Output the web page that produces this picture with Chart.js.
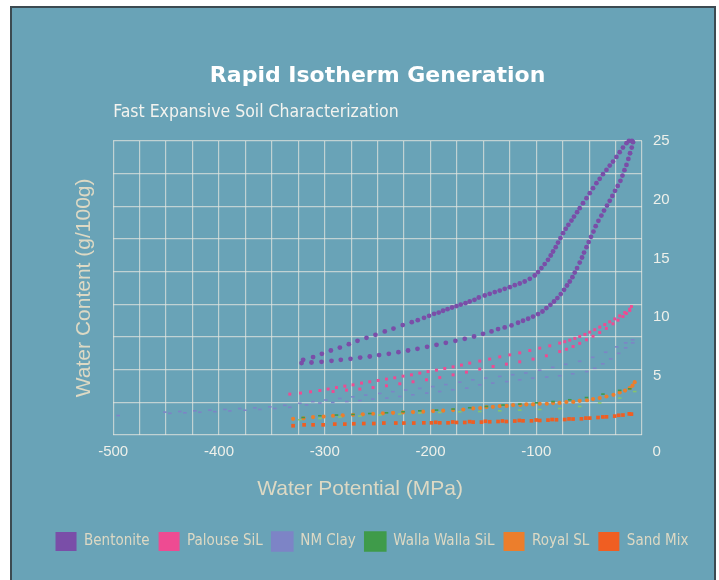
<!DOCTYPE html>
<html lang="en">

<head>
  <meta charset="utf-8">
  <title>Rapid Isotherm Generation</title>
  <script src="https://cdn.jsdelivr.net/npm/chart.js"></script>
  <style>
    html,
    body {
      margin: 0;
      padding: 0;
      background: #ffffff;
    }

    .painel {
      position: absolute;
      left: 10px;
      top: 6px;
      width: 706px;
      height: 580px;
      box-sizing: border-box;
      background: #69a3b7;
      border: 2px solid #3c4a51;
      border-bottom: none;
    }

    #grafico {
      position: absolute;
      left: 0;
      top: 0;
    }
  </style>
</head>

<body>
  <div class="painel"></div>
  <canvas id="grafico" width="719" height="580"></canvas>

  <script>
    // categorias e eixos
    const soils = ['Bentonite', 'Palouse SiL', 'NM Clay', 'Walla Walla SiL', 'Royal SL', 'Sand Mix'];
    const xTicks = [-500, -400, -300, -200, -100, 0];
    const yTicks = [5, 10, 15, 20, 25];

    // pontos [potencial (MPa), conteudo de agua (g/100g)]
    const bentoniteDrying = [[-320.4, 6.38], [-311.0, 6.61], [-302.7, 6.89], [-294.2, 7.17], [-285.7, 7.42], [-277.2, 7.71], [-269.0, 7.99], [-260.5, 8.25], [-252.0, 8.50], [-243.2, 8.79], [-235.0, 9.04], [-226.2, 9.33], [-217.7, 9.58], [-212.0, 9.75], [-206.1, 9.95], [-201.3, 10.12], [-196.6, 10.29], [-192.2, 10.40], [-188.1, 10.55], [-183.9, 10.69], [-179.6, 10.83], [-175.4, 10.95], [-171.4, 11.08], [-166.9, 11.20], [-162.9, 11.34], [-158.4, 11.48], [-154.3, 11.68], [-148.7, 11.85], [-144.0, 11.99], [-139.2, 12.14], [-134.5, 12.27], [-129.8, 12.42], [-125.0, 12.56], [-120.3, 12.73], [-115.6, 12.87], [-110.9, 13.04], [-106.1, 13.27], [-101.4, 13.55], [-98.3, 13.84], [-95.1, 14.18], [-92.0, 14.52], [-88.9, 14.88], [-86.3, 15.25], [-84.1, 15.59], [-81.6, 15.96], [-79.4, 16.35], [-77.1, 16.73], [-74.7, 17.15], [-72.1, 17.52], [-69.6, 17.86], [-66.7, 18.22], [-64.3, 18.56], [-61.4, 18.94], [-58.9, 19.28], [-55.8, 19.70], [-52.5, 20.13], [-49.4, 20.55], [-46.3, 20.98], [-43.1, 21.40], [-40.0, 21.77], [-36.9, 22.17], [-33.6, 22.53], [-30.5, 22.90], [-27.4, 23.24], [-24.2, 23.64], [-21.1, 24.04], [-18.0, 24.43], [-14.7, 24.81], [-12.3, 25.00], [-9.5, 25.00]];
    const bentoniteWetting = [[-321.9, 6.10], [-312.5, 6.15], [-303.0, 6.21], [-293.6, 6.29], [-284.8, 6.38], [-275.6, 6.46], [-266.5, 6.57], [-257.4, 6.66], [-248.6, 6.78], [-239.4, 6.89], [-230.3, 7.03], [-221.2, 7.17], [-212.3, 7.31], [-203.2, 7.48], [-194.3, 7.65], [-185.5, 7.82], [-176.4, 7.99], [-167.6, 8.16], [-158.8, 8.36], [-150.3, 8.59], [-142.3, 8.79], [-136.1, 8.99], [-129.8, 9.13], [-123.4, 9.30], [-117.2, 9.53], [-112.5, 9.70], [-107.7, 9.87], [-103.0, 10.06], [-98.3, 10.27], [-94.1, 10.49], [-90.4, 10.78], [-86.6, 11.06], [-83.2, 11.34], [-80.0, 11.63], [-76.8, 11.97], [-73.7, 12.33], [-70.9, 12.70], [-68.3, 13.04], [-65.8, 13.41], [-63.6, 13.80], [-61.4, 14.18], [-58.9, 14.65], [-56.7, 15.08], [-54.8, 15.50], [-52.5, 15.96], [-50.4, 16.39], [-48.2, 16.84], [-45.9, 17.29], [-43.8, 17.75], [-41.2, 18.20], [-38.4, 18.65], [-35.9, 19.07], [-33.1, 19.50], [-30.5, 19.90], [-28.0, 20.32], [-25.5, 20.75], [-23.0, 21.17], [-20.4, 21.60], [-18.5, 22.05], [-16.6, 22.51], [-14.7, 22.96], [-12.9, 23.47], [-11.3, 23.95], [-9.7, 24.43], [-8.5, 24.89]];

    const palouseDrying = [[-333.0, 3.46], [-322.9, 3.55], [-313.4, 3.66], [-304.6, 3.77], [-296.8, 3.89], [-288.9, 4.02], [-281.0, 4.14], [-273.2, 4.25], [-265.2, 4.40], [-257.4, 4.51], [-249.5, 4.62], [-241.6, 4.74], [-233.8, 4.85], [-225.9, 4.99], [-218.0, 5.10], [-210.1, 5.25], [-202.3, 5.38], [-194.3, 5.50], [-186.5, 5.64], [-178.6, 5.78], [-170.7, 5.93], [-162.9, 6.10], [-153.4, 6.27], [-144.0, 6.44], [-134.5, 6.63], [-125.0, 6.80], [-115.6, 6.97], [-106.1, 7.17], [-96.7, 7.37], [-87.2, 7.57], [-77.8, 7.80], [-73.0, 7.92], [-68.3, 8.05], [-63.5, 8.20], [-58.9, 8.36], [-54.0, 8.54], [-49.4, 8.73], [-44.7, 8.94], [-40.0, 9.16], [-35.2, 9.38], [-30.5, 9.61], [-25.8, 9.86], [-21.1, 10.12], [-16.3, 10.40], [-11.6, 10.69], [-10.0, 10.91]];
    const palouseWetting = [[-292.1, 3.68], [-279.4, 3.80], [-266.8, 3.89], [-254.3, 4.02], [-241.6, 4.17], [-229.0, 4.34], [-216.5, 4.51], [-203.8, 4.68], [-191.2, 4.87], [-178.6, 5.10], [-166.0, 5.33], [-153.4, 5.59], [-140.8, 5.81], [-128.2, 6.01], [-115.6, 6.21], [-103.0, 6.44], [-90.4, 6.72], [-77.8, 7.08], [-71.5, 7.28], [-65.2, 7.51], [-58.9, 7.78], [-52.5, 8.08], [-46.3, 8.38], [-40.0, 8.70], [-33.7, 9.05], [-27.4, 9.44], [-22.7, 9.75], [-18.0, 10.06], [-14.8, 10.32], [-11.6, 10.57]];

    const nmClayDrying = [[-495.3, 1.64], [-451.1, 1.93], [-437.0, 1.98], [-422.8, 2.04], [-408.6, 2.10], [-394.4, 2.16], [-380.3, 2.23], [-366.1, 2.30], [-351.9, 2.38], [-337.7, 2.51], [-323.5, 2.68], [-311.3, 2.82], [-299.0, 2.96], [-285.7, 3.09], [-273.4, 3.23], [-261.2, 3.38], [-247.9, 3.52], [-235.6, 3.67], [-223.4, 3.81], [-210.1, 3.95], [-197.8, 4.10], [-185.5, 4.27], [-172.3, 4.48], [-160.0, 4.68], [-147.7, 4.83], [-134.5, 4.97], [-122.2, 5.11], [-109.9, 5.26], [-96.7, 5.49], [-84.4, 5.74], [-72.1, 6.00], [-58.9, 6.25], [-46.6, 6.59], [-34.3, 7.02], [-23.9, 7.48], [-15.4, 7.82], [-8.8, 8.08]];
    const nmClayWetting = [[-446.4, 1.83], [-432.2, 1.87], [-418.1, 1.92], [-403.9, 1.97], [-389.7, 2.03], [-375.5, 2.09], [-361.4, 2.16], [-347.2, 2.24], [-333.0, 2.34], [-317.2, 2.55], [-304.6, 2.70], [-292.4, 2.75], [-279.1, 2.83], [-266.8, 2.92], [-254.5, 3.04], [-241.3, 3.12], [-229.0, 3.26], [-216.7, 3.40], [-203.5, 3.55], [-191.2, 3.68], [-178.9, 3.83], [-165.7, 3.97], [-153.4, 4.25], [-141.1, 4.40], [-127.9, 4.53], [-115.6, 4.68], [-103.3, 4.82], [-90.1, 4.91], [-77.8, 5.02], [-65.5, 5.19], [-52.3, 5.38], [-44.7, 5.66], [-37.1, 6.04], [-29.6, 6.46], [-22.0, 6.93], [-15.4, 7.40], [-8.8, 7.82]];

    const wallaDrying = [[-320.4, 1.47], [-304.6, 1.62], [-288.9, 1.68], [-273.2, 1.73], [-257.4, 1.81], [-241.6, 1.87], [-225.9, 1.96], [-210.1, 2.04], [-194.3, 2.10], [-178.6, 2.19], [-162.9, 2.30], [-147.1, 2.41], [-131.4, 2.53], [-115.6, 2.61], [-99.8, 2.72], [-84.1, 2.83], [-68.3, 2.98], [-52.5, 3.17], [-36.9, 3.46], [-21.1, 3.78], [-11.6, 3.91]];
    const wallaWetting = [[-323.5, 1.28], [-304.6, 1.39], [-285.7, 1.51], [-266.8, 1.59], [-247.9, 1.68], [-229.0, 1.76], [-210.1, 1.85], [-191.2, 1.90], [-172.3, 1.96], [-153.4, 1.98], [-134.5, 2.04], [-115.6, 2.10], [-96.7, 2.15], [-77.8, 2.24], [-58.9, 2.41], [-40.0, 2.70], [-21.1, 3.12], [-6.9, 3.68]];

    const royalDrying = [[-329.9, 1.36], [-311.0, 1.51], [-292.1, 1.62], [-273.2, 1.70], [-254.3, 1.79], [-235.4, 1.87], [-216.5, 1.93], [-197.5, 2.02], [-178.6, 2.10], [-159.7, 2.24], [-147.1, 2.36], [-134.5, 2.44], [-121.9, 2.53], [-109.3, 2.58], [-96.7, 2.64], [-84.1, 2.70], [-71.5, 2.78], [-58.9, 2.89], [-46.3, 3.04], [-33.6, 3.26], [-21.1, 3.60], [-11.6, 3.97], [-6.9, 4.48]];
    const royalWetting = [[-320.0, 1.40], [-301.0, 1.55], [-283.0, 1.65], [-264.0, 1.74], [-245.0, 1.83], [-226.0, 1.90], [-207.0, 1.97], [-188.0, 2.05], [-169.0, 2.15], [-153.0, 2.28], [-141.0, 2.38], [-128.0, 2.46], [-115.0, 2.53], [-103.0, 2.58], [-90.0, 2.64], [-78.0, 2.71], [-65.0, 2.80], [-52.0, 2.94], [-40.0, 3.12], [-27.0, 3.40], [-16.0, 3.76], [-9.0, 4.18]];

    const sandDrying = [[-329.9, 0.77], [-319.5, 0.85], [-311.0, 0.85], [-301.5, 0.85], [-290.5, 0.91], [-281.0, 0.91], [-272.5, 0.94], [-263.1, 0.96], [-253.6, 0.96], [-244.1, 1.00], [-232.8, 1.00], [-225.2, 1.00], [-215.8, 1.00], [-206.3, 1.02], [-199.1, 1.02], [-191.2, 1.02], [-183.4, 1.02], [-175.4, 1.05], [-167.6, 1.05], [-159.7, 1.08], [-151.8, 1.08], [-144.0, 1.11], [-136.1, 1.13], [-128.2, 1.13], [-120.3, 1.17], [-112.5, 1.19], [-104.5, 1.19], [-96.7, 1.22], [-88.9, 1.25], [-80.9, 1.28], [-73.1, 1.30], [-65.2, 1.34], [-57.3, 1.36], [-49.4, 1.42], [-41.6, 1.47], [-33.6, 1.53], [-25.8, 1.59], [-18.0, 1.68], [-10.0, 1.76]];
    const sandWetting = [[-195.0, 1.06], [-179.0, 1.09], [-163.0, 1.12], [-148.0, 1.15], [-132.0, 1.18], [-116.0, 1.22], [-100.0, 1.26], [-85.0, 1.30], [-69.0, 1.35], [-53.0, 1.42], [-37.0, 1.52], [-22.0, 1.66], [-12.0, 1.78]];

    const seriesPorSolo = [
      [bentoniteDrying, bentoniteWetting],
      [palouseDrying, palouseWetting],
      [nmClayDrying, nmClayWetting],
      [wallaDrying, wallaWetting],
      [royalDrying, royalWetting],
      [sandDrying, sandWetting]
    ];

    // estilos
    const legendColors = ['#7b55a6', '#ec4f90', '#6b78b8', '#2b8c46', '#e97c31', '#ef5d24'];
    const dryColors = ['#7a4ea8', '#ee4b92', '#7d84c6', '#3f9b4a', '#ec7e2c', '#f05e22'];
    const wetColors = ['#7a4ea8', '#ee4b92', '#7d84c6', '#86c46c', '#ec7e2c', '#f05e22'];
    const formas = ['circle', 'rect', 'line', 'line', 'circle', 'rect'];
    const raios = [2.4, 2.1, 1.8, 1.8, 2.1, 2.6];

    const narrow = "'Liberation Sans Narrow', 'DejaVu Sans Condensed', 'Liberation Sans', sans-serif";
    const regular = "'Liberation Sans', Arial, sans-serif";
    const bege = '#ddd9c4';
    const corGrade = 'rgba(226,229,222,0.72)';

    // monta um dataset por ramo (secagem e molhamento)
    let datasets = [];
    for (let i = 0; i < soils.length; i++) {
      for (let r = 0; r < 2; r++) {
        const cor = r == 0 ? dryColors[i] : wetColors[i];
        const ehLinha = formas[i] == 'line';
        datasets.push({
          label: soils[i],
          data: seriesPorSolo[i][r].map(p => ({ x: p[0], y: p[1] })),
          yAxisID: 'y',
          showLine: false,
          clip: false,
          backgroundColor: legendColors[i],
          borderColor: legendColors[i],
          borderWidth: 0,
          pointStyle: formas[i],
          pointRadius: raios[i],
          pointBackgroundColor: cor,
          pointBorderColor: cor,
          pointBorderWidth: ehLinha ? 1.6 : 0
        });
      }
    }

    const config = {
      type: 'scatter',
      data: { datasets: datasets },
      options: {
        responsive: false,
        animation: false,
        events: [],
        layout: {
          padding: { left: 25, right: 0, top: 0, bottom: 19 }
        },
        scales: {
          x: {
            type: 'linear',
            position: 'bottom',
            min: -500,
            max: 0,
            border: { display: false },
            grid: { color: corGrade, lineWidth: 1.2, drawTicks: false },
            ticks: {
              stepSize: 25,
              autoSkip: false,
              maxRotation: 0,
              padding: 8,
              color: '#eef0ea',
              font: { family: regular, size: 15 },
              callback: function (valor) {
                if (!xTicks.includes(valor)) return '';
                // no original o "0" fica um pouco a direita da ultima linha
                if (valor === 0) return '       0';
                return String(valor);
              }
            },
            title: {
              display: true,
              // espacos no fim para centralizar no quadro, como no original
              text: 'Water Potential (MPa)      ',
              color: bege,
              font: { family: regular, size: 21 },
              padding: { top: 8, bottom: 21 }
            }
          },
          yGrid: {
            type: 'linear',
            position: 'left',
            min: 0,
            max: 9,
            border: { display: false },
            grid: { color: corGrade, lineWidth: 1.2, drawTicks: false },
            ticks: { display: false, stepSize: 1 },
            title: {
              display: true,
              text: 'Water Content (g/100g)',
              color: bege,
              font: { family: regular, size: 21 },
              padding: { top: 47, bottom: 16 }
            }
          },
          y: {
            type: 'linear',
            position: 'right',
            min: 0,
            max: 25,
            border: { display: false },
            grid: { display: false, drawTicks: false },
            ticks: {
              stepSize: 5,
              padding: 11,
              color: '#eef0ea',
              font: { family: regular, size: 15 },
              callback: function (valor) {
                return yTicks.includes(valor) ? valor : '';
              }
            },
            // largura fixa para o quadro terminar onde termina no original
            afterFit: function (escala) {
              escala.width = 77;
            }
          }
        },
        plugins: {
          title: {
            display: true,
            text: 'Rapid Isotherm Generation',
            fullSize: false,
            color: '#ffffff',
            font: { family: "'DejaVu Sans', sans-serif", size: 22, weight: 'bold' },
            padding: { top: 63, bottom: 4 }
          },
          subtitle: {
            display: true,
            text: 'Fast Expansive Soil Characterization',
            align: 'start',
            fullSize: false,
            color: '#f3f3ef',
            font: { family: narrow, size: 17.5 },
            padding: { top: 8.5, bottom: 18 }
          },
          legend: {
            position: 'bottom',
            labels: {
              boxWidth: 21,
              boxHeight: 19,
              padding: 9,
              color: bege,
              font: { family: narrow, size: 15 },
              // um item por solo (o segundo ramo fica fora da legenda)
              filter: function (item) {
                return item.datasetIndex % 2 === 0;
              }
            }
          },
          tooltip: { enabled: false }
        }
      }
    };

    let myChart = new Chart(document.getElementById('grafico'), config);
  </script>
</body>

</html>
